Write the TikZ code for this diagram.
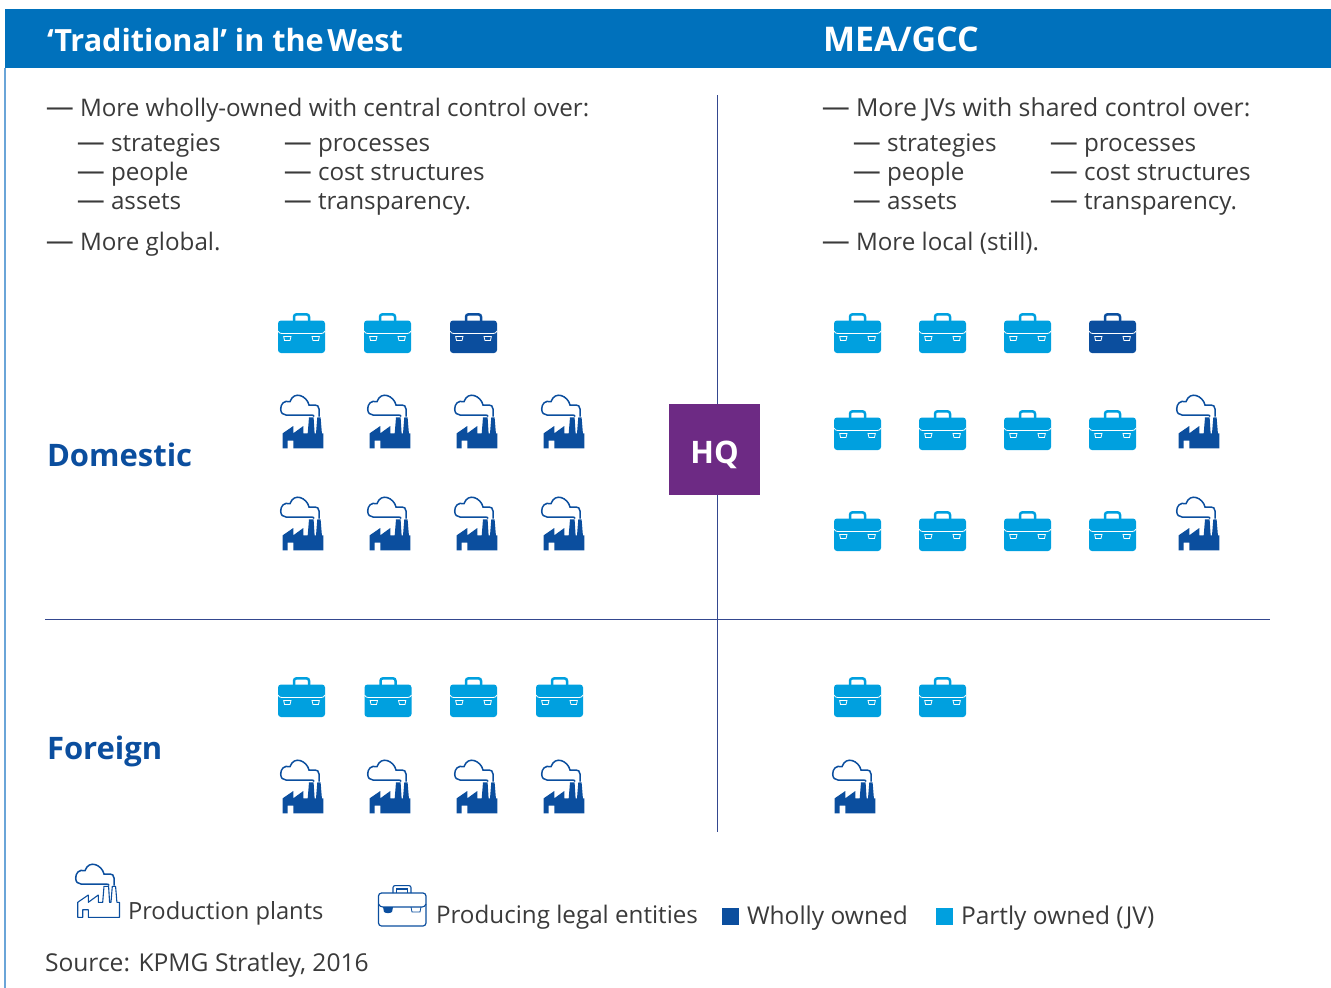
\documentclass[tikz,border=0pt]{standalone}
\usepackage{fontspec}
\setmainfont{Open Sans}
\usetikzlibrary{positioning}
\definecolor{headblue}{HTML}{0071BC}
\definecolor{edgeblue}{HTML}{6AA5D8}
\definecolor{jvblue}{HTML}{00A0DF}
\definecolor{ownblue}{HTML}{0B4E9E}
\definecolor{rulenavy}{HTML}{34488F}
\definecolor{hqpurple}{HTML}{6D2A84}
\definecolor{bodygrey}{HTML}{3A3A3A}
\newcommand{\lead}[1]{\makebox[#1pt][l]{\hspace*{-1.2pt}{\fontsize{28}{28}\selectfont ---}}}
\tikzset{
  every node/.style={inner sep=0pt,outer sep=0pt,anchor=base west},
  bodytext/.style={text=bodygrey,font=\fontsize{24.2}{26}\selectfont},
  subtext/.style={text=bodygrey,font=\fontsize{24.2}{26}\selectfont},
  keytext/.style={text=bodygrey,font=\fontsize{#1}{26}\selectfont},
  headtext/.style={text=white,font=\fontsize{#1}{34}\selectfont\bfseries},
  rowtext/.style={text=ownblue,font=\fontsize{31}{34}\selectfont\bfseries},
  keybox/.style={minimum size=17pt,fill=#1},
  divider/.style={draw=rulenavy,line width=1pt},
  pics/bagicon/.style={code={
    \draw[#1,line width=2.5pt,rounded corners=2.5pt] (16,9) -- (16,1.3) -- (31,1.3) -- (31,9);
    \fill[#1,rounded corners=3pt] (0,7.5) rectangle (47,40);
    \draw[white,line width=0.8pt] (0,18) .. controls (1,20) and (2,20.5) .. (4,20.5) -- (43,20.5) .. controls (45,20.5) and (46,20) .. (47,18);
    \draw[white,line width=0.8pt] (5.7,23.5) -- (6.5,27.5) -- (12,27.5) -- (13,23.5) -- cycle;
    \draw[white,line width=0.8pt] (34,23.5) -- (35,27.5) -- (40.5,27.5) -- (41.3,23.5) -- cycle;
  }},
  pics/planticon/.style={code={
    \fill[#1] (2.7,53.3) -- (2.7,38.3) -- (13.3,31) -- (13.3,38.3) -- (23.3,31) -- (23.3,38.3)
      -- (27.7,38.3) -- (29,22.3) -- (33.6,22.3) -- (34.6,38.3) -- (36,38.3) -- (37.3,22.3)
      -- (40.6,22.3) -- (41.9,38.3) -- (43.4,38.3) -- (43.4,53.3) -- (13.3,53.3) -- (13.3,45.7)
      -- (7.7,45.7) -- (7.7,53.3) -- cycle;
    \draw[#1,line width=1.5pt] (39,21.5) -- (39,14) .. controls (39,11) and (37,10) .. (35,10)
      -- (29,10) .. controls (27,1) and (14,-5) .. (10,6.7) .. controls (4,5) and (0.7,9) .. (0.7,14)
      .. controls (0.7,18) and (3,20) .. (6,20) -- (31,20) .. controls (33,20) and (34,20.5) .. (34,21.5);
  }},
  pics/planthollow/.style={code={
    \draw[ownblue,line width=1.1pt,line join=round] (2.7,53.3) -- (2.7,38.3) -- (13.3,31) -- (13.3,38.3) -- (23.3,31) -- (23.3,38.3)
      -- (27.7,38.3) -- (29,22.3) -- (33.6,22.3) -- (34.6,38.3) -- (36,38.3) -- (37.3,22.3)
      -- (40.6,22.3) -- (41.9,38.3) -- (44.5,38.3) -- (44.5,53.3) -- (13.3,53.3) -- (13.3,45.7)
      -- (7.7,45.7) -- (7.7,53.3) -- cycle;
    \draw[ownblue,line width=1.5pt] (39,21.5) -- (39,14) .. controls (39,11) and (37,10) .. (35,10)
      -- (29,10) .. controls (27,1) and (14,-5) .. (10,6.7) .. controls (4,5) and (0.7,9) .. (0.7,14)
      .. controls (0.7,18) and (3,20) .. (6,20) -- (31,20) .. controls (33,20) and (34,20.5) .. (34,21.5);
  }},
  pics/baghollow/.style={code={
    \draw[ownblue,line width=1.1pt,rounded corners=2pt] (15,8) -- (15,0.6) -- (33,0.6) -- (33,8);
    \draw[ownblue,line width=1.1pt] (18.5,8) -- (18.5,4) -- (29.5,4) -- (29.5,8);
    \draw[ownblue,line width=1.2pt,rounded corners=3pt] (0.5,8) rectangle (48,41);
    \draw[ownblue,line width=1.1pt] (0.5,19) .. controls (1.5,21) and (3,22) .. (5,22) -- (44,22) .. controls (46,22) and (47,21) .. (48,19);
    \fill[ownblue] (5,22) -- (6,27) .. controls (8,28.5) and (12,28.5) .. (14,27) -- (15,22) -- cycle;
    \draw[ownblue,line width=0.8pt] (33,22) -- (34,27) -- (42,27) -- (43,22);
  }}
}
\begin{document}
\begin{tikzpicture}[x=1pt,y=-1pt]
\useasboundingbox (0,0) rectangle (1331,988);
\fill[headblue] (5,9) rectangle (1331,68);
\draw[edgeblue,line width=1.5pt] (5,68) -- (5,988);

\node[headtext=30.6] (head west) at (47,51) {‘Traditional’ in the\kern3.5pt West};
\node[headtext=34] (head gcc) at (823,51.5) {MEA/GCC};

% left column
\node[bodytext] (west control) at (47,116) {\lead{33}More wholly-owned with central control over:};
\node[subtext] (west strategies) at (78,151) {\lead{33}strategies};
\node[subtext] (west people) at (78,180) {\lead{33}people};
\node[subtext] (west assets) at (78,209) {\lead{33}assets};
\node[subtext] (west processes) at (285,151) {\lead{33}processes};
\node[subtext] (west cost) at (285,180) {\lead{33}cost structures};
\node[subtext] (west transparency) at (285,209) {\lead{33}transparency.};
\node[bodytext] (west global) at (47,250) {\lead{33}More global.};

% right column
\node[keytext=24.8] (gcc control) at (823,116) {\lead{33}More JVs with shared control over:};
\node[subtext] (gcc strategies) at (854,151) {\lead{33}strategies};
\node[subtext] (gcc people) at (854,180) {\lead{33}people};
\node[subtext] (gcc assets) at (854,209) {\lead{33}assets};
\node[subtext] (gcc processes) at (1051,151) {\lead{33}processes};
\node[subtext] (gcc cost) at (1051,180) {\lead{33}cost structures};
\node[subtext] (gcc transparency) at (1051,209) {\lead{33}transparency.};
\node[bodytext] (gcc local) at (823,250) {\lead{33}More local (still).};

\node[rowtext] (domestic) at (47,466) {Domestic};
\node[rowtext] (foreign) at (47,759) {Foreign};

% dividers
\coordinate (vtop) at (717,95);
\coordinate (vbottom) at (717,832);
\coordinate (hleft) at (45,619.7);
\coordinate (hright) at (1270,619.7);
\draw[divider] (vtop) -- (vbottom);
\draw[divider] (hleft) -- (hright);
\node[fill=hqpurple,minimum size=91pt,anchor=center,text=white,font=\fontsize{31}{34}\selectfont\bfseries] (hq) at (714.5,449.5) {\raisebox{0pt}[27pt][0pt]{HQ}};

% icons
\foreach \x in {278,364} \path (\x,313) pic {bagicon=jvblue};
\path (450,313) pic {bagicon=ownblue};
\foreach \x in {280,367,454,541} {
  \foreach \y in {395,497,760} \path (\x,\y) pic {planticon=ownblue};
}
\foreach \x in {278,364.5,450,536} \path (\x,677) pic {bagicon=jvblue};
\foreach \x in {834,919,1004} \path (\x,313) pic {bagicon=jvblue};
\path (1089,313) pic {bagicon=ownblue};
\foreach \x in {834,919,1004,1089} {
  \foreach \y in {410,511} \path (\x,\y) pic {bagicon=jvblue};
}
\foreach \y in {395,497} \path (1176,\y) pic {planticon=ownblue};
\foreach \x in {834,919} \path (\x,677) pic {bagicon=jvblue};
\path (832,760) pic {planticon=ownblue};

% legend
\path (75,864) pic {planthollow};
\node[keytext=23.7] (key plants) at (128,919) {Production plants};
\path (378,885) pic {baghollow};
\node[keytext=24.2] (key entities) at (436,923) {Producing legal entities};
\node[keybox=ownblue,anchor=north west] (key own) at (722,908) {};
\node[keytext=24.5] (key wholly) at (747,924) {Wholly owned};
\node[keybox=jvblue,anchor=north west] (key jv) at (936,908) {};
\node[keytext=24.5] (key partly) at (961,924) {Partly owned (JV)};
\node[keytext=24.6] (source) at (45,971) {Source: KPMG Stratley, 2016};
\end{tikzpicture}
\end{document}
